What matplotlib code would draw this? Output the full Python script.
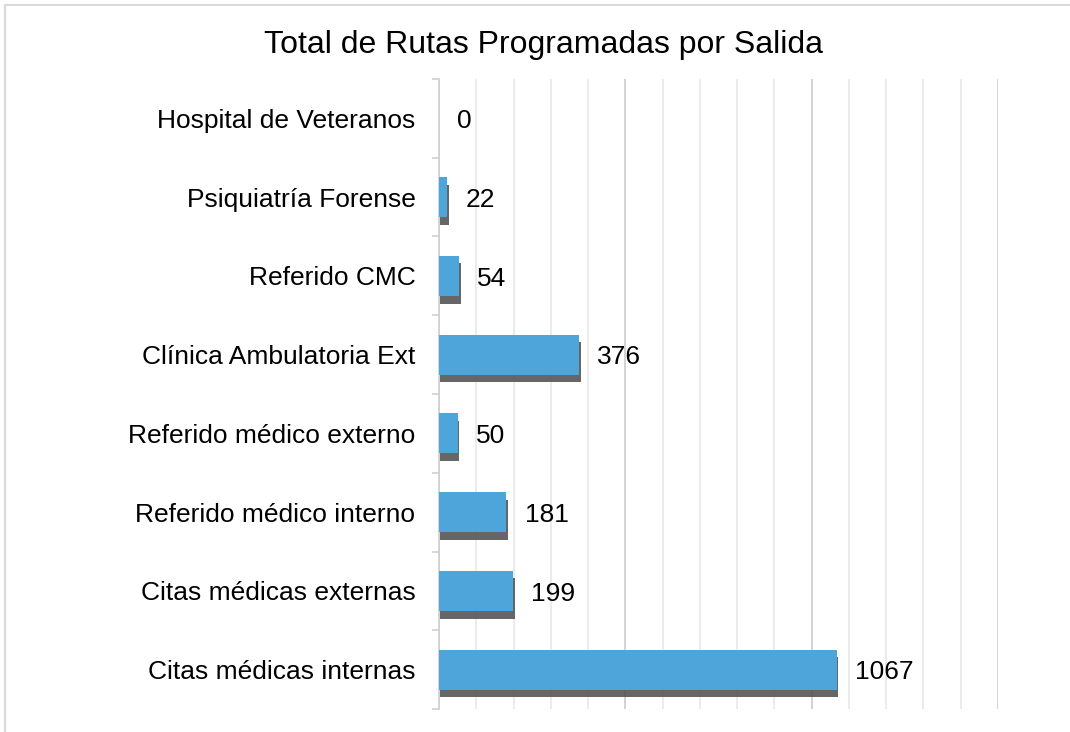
import numpy as np
import matplotlib
matplotlib.use("Agg")
import matplotlib.pyplot as plt
import matplotlib.patheffects as pe
from matplotlib.patches import Rectangle
from matplotlib.ticker import MultipleLocator

# =========================
# DATA
# =========================
categorias = [
    "Citas médicas internas",
    "Citas médicas externas",
    "Referido médico interno",
    "Referido médico externo",
    "Clínica Ambulatoria Ext",
    "Referido CMC",
    "Psiquiatría Forense",
    "Hospital de Veteranos",
]
rutas = [1067, 199, 181, 50, 376, 54, 22, 0]

titulo = "Total de Rutas Programadas por Salida"

# =========================
# FIGURE
# =========================
plt.rcParams["font.family"] = ["Liberation Sans", "DejaVu Sans"]

fig = plt.figure(figsize=(10.70, 7.32), dpi=100)
ax = fig.add_axes([0.4103, 0.0314, 0.5224, 0.8607])

y = np.arange(len(categorias))
barras = ax.barh(y, rutas, height=0.51, color="#4EA5DA", zorder=3)
for b in barras:
    b.set_path_effects([
        pe.SimplePatchShadow(offset=(1.0, -5.5), shadow_rgbFace="#555555", alpha=0.9),
        pe.Normal(),
    ])

# value labels
for yi, v in zip(y, rutas):
    ax.annotate(str(v), (v, yi), xytext=(13, -2), textcoords="offset points",
                va="center", ha="left", fontsize=19, color="black")

ax.set_xlim(0, 1500)
ax.set_ylim(-0.5, len(categorias) - 0.5)

# gridlines: light every 100, darker every 500
ax.xaxis.set_minor_locator(MultipleLocator(100))
ax.xaxis.set_major_locator(MultipleLocator(500))
ax.grid(axis="x", which="minor", color="#E8E8E8", lw=1.2, zorder=0)
ax.grid(axis="x", which="major", color="#D3D3D3", lw=1.4, zorder=0)
ax.tick_params(axis="x", which="both", length=0, labelbottom=False)

# y axis: labels at centers, ticks at boundaries
ax.set_yticks(y)
ax.set_yticklabels(categorias, fontsize=19)
ax.set_yticks(np.arange(-0.5, len(categorias)), minor=True)
ax.tick_params(axis="y", which="major", length=0, pad=17)
ax.tick_params(axis="y", which="minor", length=5, width=1.2, color="#D0D0D0", direction="out")

for s in ["top", "right", "bottom"]:
    ax.spines[s].set_visible(False)
ax.spines["left"].set_color("#D0D0D0")
ax.spines["left"].set_linewidth(1.2)

fig.text(0.5075, 0.9385, titulo, ha="center", va="center", fontsize=23)

# outer chart frame
fig.patches.append(Rectangle((5 / 1070, -0.1), 1.2, 1.1 - 5 / 732, transform=fig.transFigure,
                             fill=False, edgecolor="#D9D9D9", lw=1.5))

fig.savefig("out.png", dpi=100)
